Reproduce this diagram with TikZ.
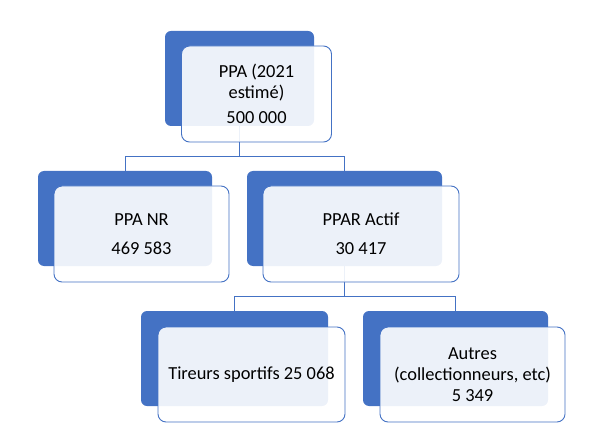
\documentclass[tikz,border=0pt]{standalone}
\usepackage{fontspec}
\setmainfont{Carlito}
\usetikzlibrary{positioning,backgrounds}
\definecolor{offblue}{HTML}{4472C4}

\begin{document}
\begin{tikzpicture}[x=1pt, y=-1pt,
    every node/.style={font=\fontsize{18.4}{21}\selectfont, align=center, text=black},
    back/.style={rectangle, rounded corners=6pt, fill=offblue, inner sep=0pt},
    front/.style={rectangle, rounded corners=8pt, draw=offblue, line width=0.9pt,
                  fill=white, fill opacity=0.9, text opacity=1, inner sep=2pt},
    link/.style={draw=offblue, line width=0.8pt}
]
\useasboundingbox (0,0) rectangle (593,443);

% back plates
\node[back, minimum width=149pt, minimum height=95pt] (top) at (239.5,78.5) {};
\node[back, minimum width=174pt, minimum height=95pt] (nr) at (125,218.5) {};
\node[back, minimum width=195pt, minimum height=95pt] (actif) at (344.5,218.5) {};
\node[back, minimum width=187pt, minimum height=95pt] (tir) at (234.5,358.5) {};
\node[back, minimum width=185pt, minimum height=95pt] (autres) at (455.5,358.5) {};

% front cards
\node[front, minimum width=150pt, minimum height=96pt] (topf) at ([shift={(17,15.5)}]top.center)
    {PPA (2021\\estimé)\\[4pt]500 000};
\node[front, minimum width=175pt, minimum height=96pt] (nrf) at ([shift={(16.5,15.5)}]nr.center)
    {PPA NR\\[8pt]469 583};
\node[front, minimum width=196pt, minimum height=96pt] (actiff) at ([shift={(16.5,15.5)}]actif.center)
    {PPAR Actif\\[8pt]30 417};
\node[front, minimum width=187pt, minimum height=95pt] (tirf) at ([shift={(17,16)}]tir.center)
    {Tireurs sportifs 25 068};
\node[front, minimum width=185pt, minimum height=95pt] (autresf) at ([shift={(17,16)}]autres.center)
    {Autres\\(collectionneurs, etc)\\5 349};

% hierarchy lines
\begin{scope}[on background layer]
\foreach \p/\c in {top/nr, top/actif, actif/tir, actif/autres}
    \draw[link] (\p.south) -- ++(0,30) -| (\c.north);
\end{scope}
\end{tikzpicture}
\end{document}
